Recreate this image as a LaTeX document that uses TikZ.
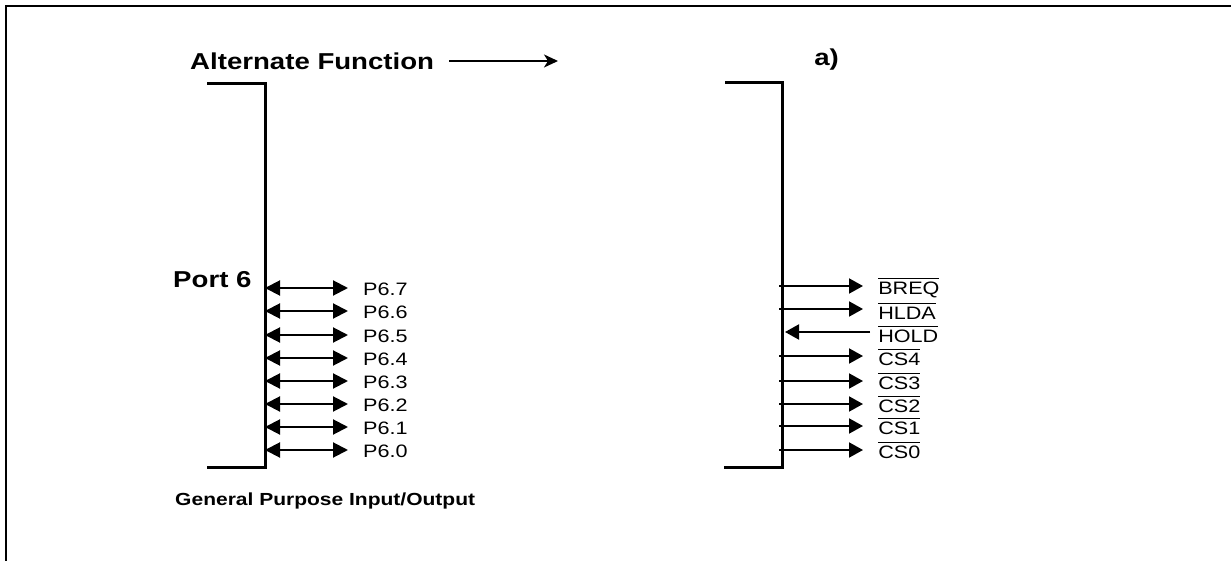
\documentclass[tikz,border=0pt]{standalone}
\usepackage{fontspec}
\setmainfont{Liberation Sans}
\usetikzlibrary{arrows.meta}
\newcommand\nsig[1]{\setbox0\hbox{#1}\rlap{\rule[\dimexpr\ht0+2.5pt\relax]{\wd0}{1.2pt}}\box0}
\tikzset{
  bigtxt/.style={font=\fontsize{23}{26}\selectfont\bfseries, xscale=1.2, inner sep=0pt, anchor=west},
  pintxt/.style={font=\fontsize{18}{20}\selectfont, xscale=1.2, inner sep=0pt, inner xsep=12.5pt, anchor=west},
  bus/.style={line width=3pt},
  bidir/.style={{Triangle[length=15pt,width=15pt]}-{Triangle[length=15pt,width=15pt]}, line width=2pt},
  outarr/.style={-{Triangle[length=14pt,width=15pt]}, line width=2pt}
}
\begin{document}
\begin{tikzpicture}[x=1pt, y=-1pt]
\useasboundingbox (0,0) rectangle (1231,561);
\draw[line width=2.3pt] (6,561) -- (6,6) -- (1231,6);

\node[bigtxt] (alt) at (190,61) {Alternate Function};
\coordinate (altend) at (558,61);
\draw[-{Stealth[length=14pt,width=13pt,inset=4pt]}, line width=1.8pt, shorten <=15pt] (alt.east) -- (altend);
\node[bigtxt] (fa) at (814,60) {a)};
\node[bigtxt] (port) at (173,280) {Port 6};
\node[bigtxt, font=\fontsize{17.5}{20}\selectfont\bfseries] (gpio) at (175,501) {General Purpose Input/Output};

% port lines
\draw[bus] (207,84) -- (265,84) -- (265,467) -- (207,467);
\draw[bus] (725,83) -- (782,83) -- (782,467) -- (724,467);

\coordinate (l7) at (265,288);
\coordinate (l6) at (265,311);
\coordinate (l5) at (265,335);
\coordinate (l4) at (265,358);
\coordinate (l3) at (265,381);
\coordinate (l2) at (265,404);
\coordinate (l1) at (265,427);
\coordinate (l0) at (265,450);

\node[pintxt] (p7) at (348,289) {P6.7};
\node[pintxt] (p6) at (348,312) {P6.6};
\node[pintxt] (p5) at (348,336) {P6.5};
\node[pintxt] (p4) at (348,359) {P6.4};
\node[pintxt] (p3) at (348,382) {P6.3};
\node[pintxt] (p2) at (348,405) {P6.2};
\node[pintxt] (p1) at (348,428) {P6.1};
\node[pintxt] (p0) at (348,451) {P6.0};

\draw[bidir] (l7) -- (l7 -| p7.west);
\draw[bidir] (l6) -- (l6 -| p6.west);
\draw[bidir] (l5) -- (l5 -| p5.west);
\draw[bidir] (l4) -- (l4 -| p4.west);
\draw[bidir] (l3) -- (l3 -| p3.west);
\draw[bidir] (l2) -- (l2 -| p2.west);
\draw[bidir] (l1) -- (l1 -| p1.west);
\draw[bidir] (l0) -- (l0 -| p0.west);

\coordinate (r7) at (779,286);
\coordinate (r6) at (779,309);
\coordinate (r5) at (785,332);
\coordinate (r4) at (779,356);
\coordinate (r3) at (779,381);
\coordinate (r2) at (779,404);
\coordinate (r1) at (779,426);
\coordinate (r0) at (779,450);

\node[pintxt] (a7) at (863,288) {\nsig{BREQ}};
\node[pintxt] (a6) at (863,311) {\nsig{HLDA}};
\node[pintxt] (a5) at (863,334) {\nsig{HOLD}};
\node[pintxt] (a4) at (863,357) {\nsig{CS4}};
\node[pintxt] (a3) at (863,381) {\nsig{CS3}};
\node[pintxt] (a2) at (863,404) {\nsig{CS2}};
\node[pintxt] (a1) at (863,426) {\nsig{CS1}};
\node[pintxt] (a0) at (863,450) {\nsig{CS0}};

\draw[outarr] (r7) -- (r7 -| a7.west);
\draw[outarr] (r6) -- (r6 -| a6.west);
\draw[outarr, shorten <=-7pt] (r5 -| a5.west) -- (r5);
\draw[outarr] (r4) -- (r4 -| a4.west);
\draw[outarr] (r3) -- (r3 -| a3.west);
\draw[outarr] (r2) -- (r2 -| a2.west);
\draw[outarr] (r1) -- (r1 -| a1.west);
\draw[outarr] (r0) -- (r0 -| a0.west);
\end{tikzpicture}
\end{document}
